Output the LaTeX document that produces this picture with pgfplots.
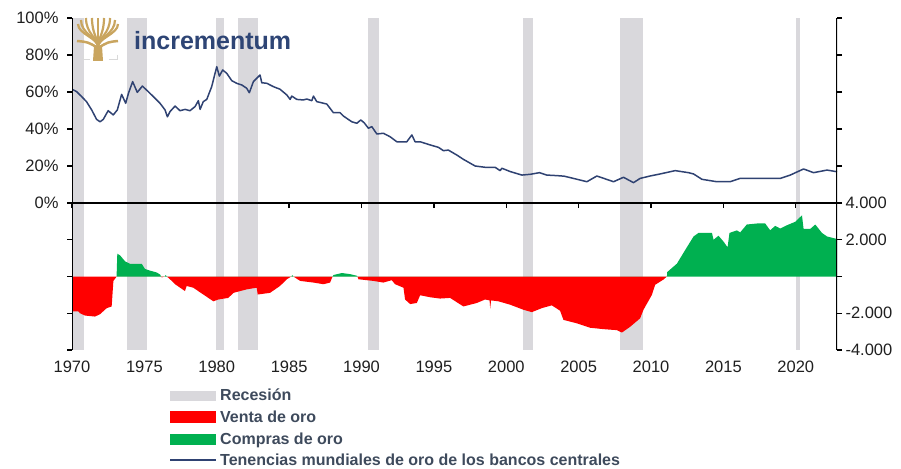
\documentclass[border=0pt]{standalone}
\usepackage{pgfplots}
\pgfplotsset{compat=1.18}
\usepackage{fontspec}
\setmainfont{Liberation Sans}
\definecolor{recgray}{HTML}{D9D8DC}
\definecolor{navy}{HTML}{2F4272}
\definecolor{logonavy}{HTML}{2E4575}
\definecolor{sellred}{HTML}{FF0000}
\definecolor{buygreen}{HTML}{00B050}
\definecolor{legtext}{HTML}{3E4A5C}
\definecolor{gold}{HTML}{C9A55F}

\pgfplotstableread{
year share
1970.0 61.5
1970.32 60.2
1970.67 57.5
1971.0 54.8
1971.36 50.3
1971.7 45.2
1971.94 43.9
1972.16 45.2
1972.5 49.9
1972.85 47.6
1973.13 50.3
1973.43 58.7
1973.71 53.9
1973.9 59.3
1974.19 65.6
1974.51 59.8
1974.86 63.2
1975.2 60.7
1975.74 56.6
1976.08 53.9
1976.43 50.3
1976.59 46.6
1976.77 49.4
1977.12 52.4
1977.46 49.9
1977.81 50.6
1978.15 49.9
1978.5 52.1
1978.73 55.3
1978.85 50.6
1979.07 54.8
1979.31 56
1979.65 62.9
1980.0 73.7
1980.18 68.6
1980.41 71.9
1980.69 70.1
1981.04 66.1
1981.38 64.7
1981.73 63.8
1982.07 62
1982.25 59.6
1982.53 65.6
1982.76 67.4
1982.99 69.2
1983.11 65
1983.46 64.7
1983.91 62.9
1984.37 61.5
1984.84 58.4
1985.07 56
1985.18 57.8
1985.53 56
1985.98 55.7
1986.22 56.2
1986.57 55.3
1986.68 57.8
1986.91 54.8
1987.6 53.5
1988.06 48.8
1988.52 48.8
1988.75 47
1989.33 43.9
1989.68 43.1
1989.95 44.9
1990.18 43.4
1990.48 40.4
1990.71 41.3
1991.06 37.3
1991.51 37.7
1991.98 35.8
1992.44 33.1
1993.13 33.1
1993.48 36.8
1993.7 33.1
1994.05 33.1
1994.74 31.4
1995.31 30.1
1995.66 28.3
1996.0 28.6
1996.59 25.9
1997.04 23.6
1997.85 20
1998.54 19.3
1999.23 19.3
1999.58 17.5
1999.7 18.8
2000.27 17
2001.08 15.1
2001.65 15.5
2002.3 16.4
2002.8 15.1
2003.5 14.8
2004.0 14.5
2004.64 13.3
2005.57 11.5
2006.26 14.6
2007.41 11.5
2008.1 13.9
2008.79 11
2009.25 13.3
2009.94 14.6
2010.63 15.7
2011.67 17.5
2012.59 16.4
2012.94 15.7
2013.52 12.8
2014.55 11.5
2015.47 11.5
2016.16 13.3
2017.54 13.3
2018.93 13.3
2019.62 15.1
2020.54 18.4
2021.23 16.4
2022.16 17.8
2022.85 16.9
}\sharetable

\pgfplotstableread{
year sales
1970.0 -1900
1970.44 -1900
1970.55 -2000
1970.9 -2125
1971.59 -2180
1971.94 -2050
1972.4 -1720
1972.74 -1630
1972.86 -240
1973.04 -50
1973.1 0
1976.15 0
1976.2 -50
1976.4 0
1976.55 0
1976.77 -150
1977.12 -420
1977.8 -790
1977.92 -515
1978.38 -610
1979.07 -980
1979.77 -1350
1980.11 -1250
1980.8 -1165
1981.15 -890
1982.07 -700
1982.76 -610
1982.83 -980
1983.68 -890
1984.37 -515
1984.84 -150
1985.15 0
1985.3 0
1985.76 -240
1986.68 -330
1987.37 -420
1987.83 -330
1988.0 0
1989.72 0
1989.79 -150
1990.82 -240
1991.51 -330
1992.09 -200
1992.32 -420
1992.9 -610
1993.01 -1250
1993.36 -1500
1993.82 -1440
1994.05 -1020
1994.74 -1130
1995.43 -1200
1996.12 -1165
1997.04 -1630
1997.97 -1440
1998.54 -1250
1998.85 -1300
1998.89 -1750
1998.95 -1300
1999.46 -1350
2000.27 -1535
2001.19 -1810
2001.77 -1940
2002.46 -1720
2003.15 -1570
2003.72 -1865
2003.95 -2360
2004.88 -2550
2005.8 -2790
2006.72 -2865
2007.64 -2920
2007.99 -3050
2008.56 -2735
2009.25 -2275
2009.48 -1810
2010.06 -1000
2010.29 -450
2010.86 -165
2011.1 0
}\salestable

\pgfplotstableread{
year buys
1973.08 0
1973.13 1240
1973.32 1150
1973.66 830
1974.0 690
1974.82 690
1975.04 410
1975.39 320
1975.85 220
1976.08 110
1976.15 0
1976.4 0
1976.47 80
1976.55 0
1985.15 0
1985.22 70
1985.3 0
1988.0 0
1988.06 80
1988.64 190
1989.21 130
1989.68 40
1989.72 0
2011.1 0
2011.12 240
2011.79 700
2012.36 1440
2012.94 2180
2013.28 2370
2014.21 2370
2014.32 2000
2014.66 2220
2015.01 1900
2015.29 1590
2015.42 2370
2015.93 2510
2016.16 2400
2016.62 2830
2017.31 2885
2017.89 2885
2018.23 2515
2018.58 2755
2018.93 2610
2019.39 2790
2019.97 2980
2020.43 3330
2020.54 2590
2021.0 2590
2021.35 2830
2021.81 2370
2022.16 2180
2022.85 2040
}\buystable

\newcommand{\rec}[4]{\addplot[fill=recgray, draw=none] coordinates {(#1,#3) (#1,#4) (#2,#4) (#2,#3)} -- cycle;}
\newcommand{\recall}[2]{%
  \rec{1969.92}{1970.85}{#1}{#2}
  \rec{1973.83}{1975.17}{#1}{#2}
  \rec{1979.95}{1980.5}{#1}{#2}
  \rec{1981.45}{1982.84}{#1}{#2}
  \rec{1990.45}{1991.18}{#1}{#2}
  \rec{2001.13}{2001.84}{#1}{#2}
  \rec{2007.88}{2009.44}{#1}{#2}
  \rec{2020.02}{2020.3}{#1}{#2}}

\pgfplotsset{
  common/.style={
    scale only axis, width=765pt,
    xmin=1970, xmax=2022.85,
    xtick={1970,1975,...,2020},
    tick align=outside,
    major tick length=5pt,
    tick style={black, line width=1.3pt},
    axis line style={draw=none},
    ticklabel style={font=\fontsize{16.5}{19}\selectfont, text=black!88},
  }
}

\begin{document}
\begin{tikzpicture}
\useasboundingbox (0pt,0pt) rectangle (901pt,-468pt);

% top panel
\begin{axis}[common,
  at={(72pt,-203pt)}, anchor=south west, height=185pt,
  ymin=0, ymax=100,
  xtick pos=lower, xticklabels={},
  ytick={0,20,...,100},
  yticklabels={0\%,20\%,40\%,60\%,80\%,100\%},
  ytick pos=both, yticklabel pos=left,
  yticklabel style={xshift=-5pt},
]
\recall{0}{100}
\addplot[navy, line width=1.5pt, line join=round] table[x=year,y=share] {\sharetable};
\draw[black, line width=1.6pt] (rel axis cs:0,0) -- (rel axis cs:0,1);
\draw[black, line width=1.6pt] (rel axis cs:1,0) -- (rel axis cs:1,1);
\draw[black, line width=1.6pt] (rel axis cs:0,0) -- (rel axis cs:1,0);
\end{axis}

% bottom panel
\begin{axis}[common,
  at={(72pt,-350pt)}, anchor=south west, height=147pt,
  ymin=-4000, ymax=4000,
  xticklabels={1970,1975,1980,1985,1990,1995,2000,2005,2010,2015,2020},
  xtick style={draw=none},
  ytick={-4000,-2000,0,2000,4000},
  yticklabels={-4.000,-2.000,,2.000,4.000},
  ytick pos=both, yticklabel pos=right,
  xticklabel style={yshift=-2pt},
]
\recall{-4000}{4000}
\addplot[fill=sellred, draw=none] table[x=year,y=sales] {\salestable} \closedcycle;
\addplot[fill=buygreen, draw=none] table[x=year,y=buys] {\buystable} \closedcycle;
\draw[black, line width=1.6pt] (rel axis cs:0,0) -- (rel axis cs:0,1);
\draw[black, line width=1.6pt] (rel axis cs:1,0) -- (rel axis cs:1,1);
\draw[black, line width=1.6pt] (rel axis cs:0,1) -- (rel axis cs:1,1);
\end{axis}

% logo
\fill[gold] (93pt,-61pt) -- (94pt,-46pt) -- (102pt,-46pt) -- (103pt,-61pt) -- cycle;
\foreach \tx/\ty in {78/-24, 81/-20, 86/-18, 92/-18, 98/-18, 104/-18, 110/-18, 115/-20, 118/-24}{
  \draw[gold, line width=2.2pt] (98pt,-47pt) .. controls (98pt,-38pt) and (\tx pt,-34pt) .. (\tx pt,\ty pt);
}
\draw[gold, line width=2.5pt] (77pt,-41pt) .. controls (88pt,-42pt) .. (98pt,-48pt) .. controls (108pt,-42pt) .. (118pt,-41pt);
\draw[black!15, line width=1pt] (83pt,-55pt) -- (83pt,-60pt) -- (90pt,-60pt);
\draw[black!15, line width=1pt] (117pt,-55pt) -- (117pt,-60pt) -- (109pt,-60pt);
\node[anchor=base west, inner sep=0pt, text=logonavy, font=\bfseries\fontsize{25}{28}\selectfont] at (134pt,-49.5pt) {incrementum};

% legend
\fill[recgray] (170pt,-390.5pt) rectangle (216pt,-400.5pt);
\fill[sellred] (170pt,-411pt) rectangle (216pt,-423pt);
\fill[buygreen] (170pt,-434pt) rectangle (216pt,-445pt);
\draw[navy, line width=2pt] (170pt,-459.5pt) -- (216pt,-459.5pt);
\begin{scope}[every node/.style={anchor=base west, inner sep=0pt, text=legtext, font=\bfseries\fontsize{16}{18}\selectfont}]
\node at (220pt,-400.7pt) {Recesión};
\node at (220pt,-422.7pt) {Venta de oro};
\node at (220pt,-444.3pt) {Compras de oro};
\node at (220pt,-465pt) {Tenencias mundiales de oro de los bancos centrales};
\end{scope}
\end{tikzpicture}
\end{document}
